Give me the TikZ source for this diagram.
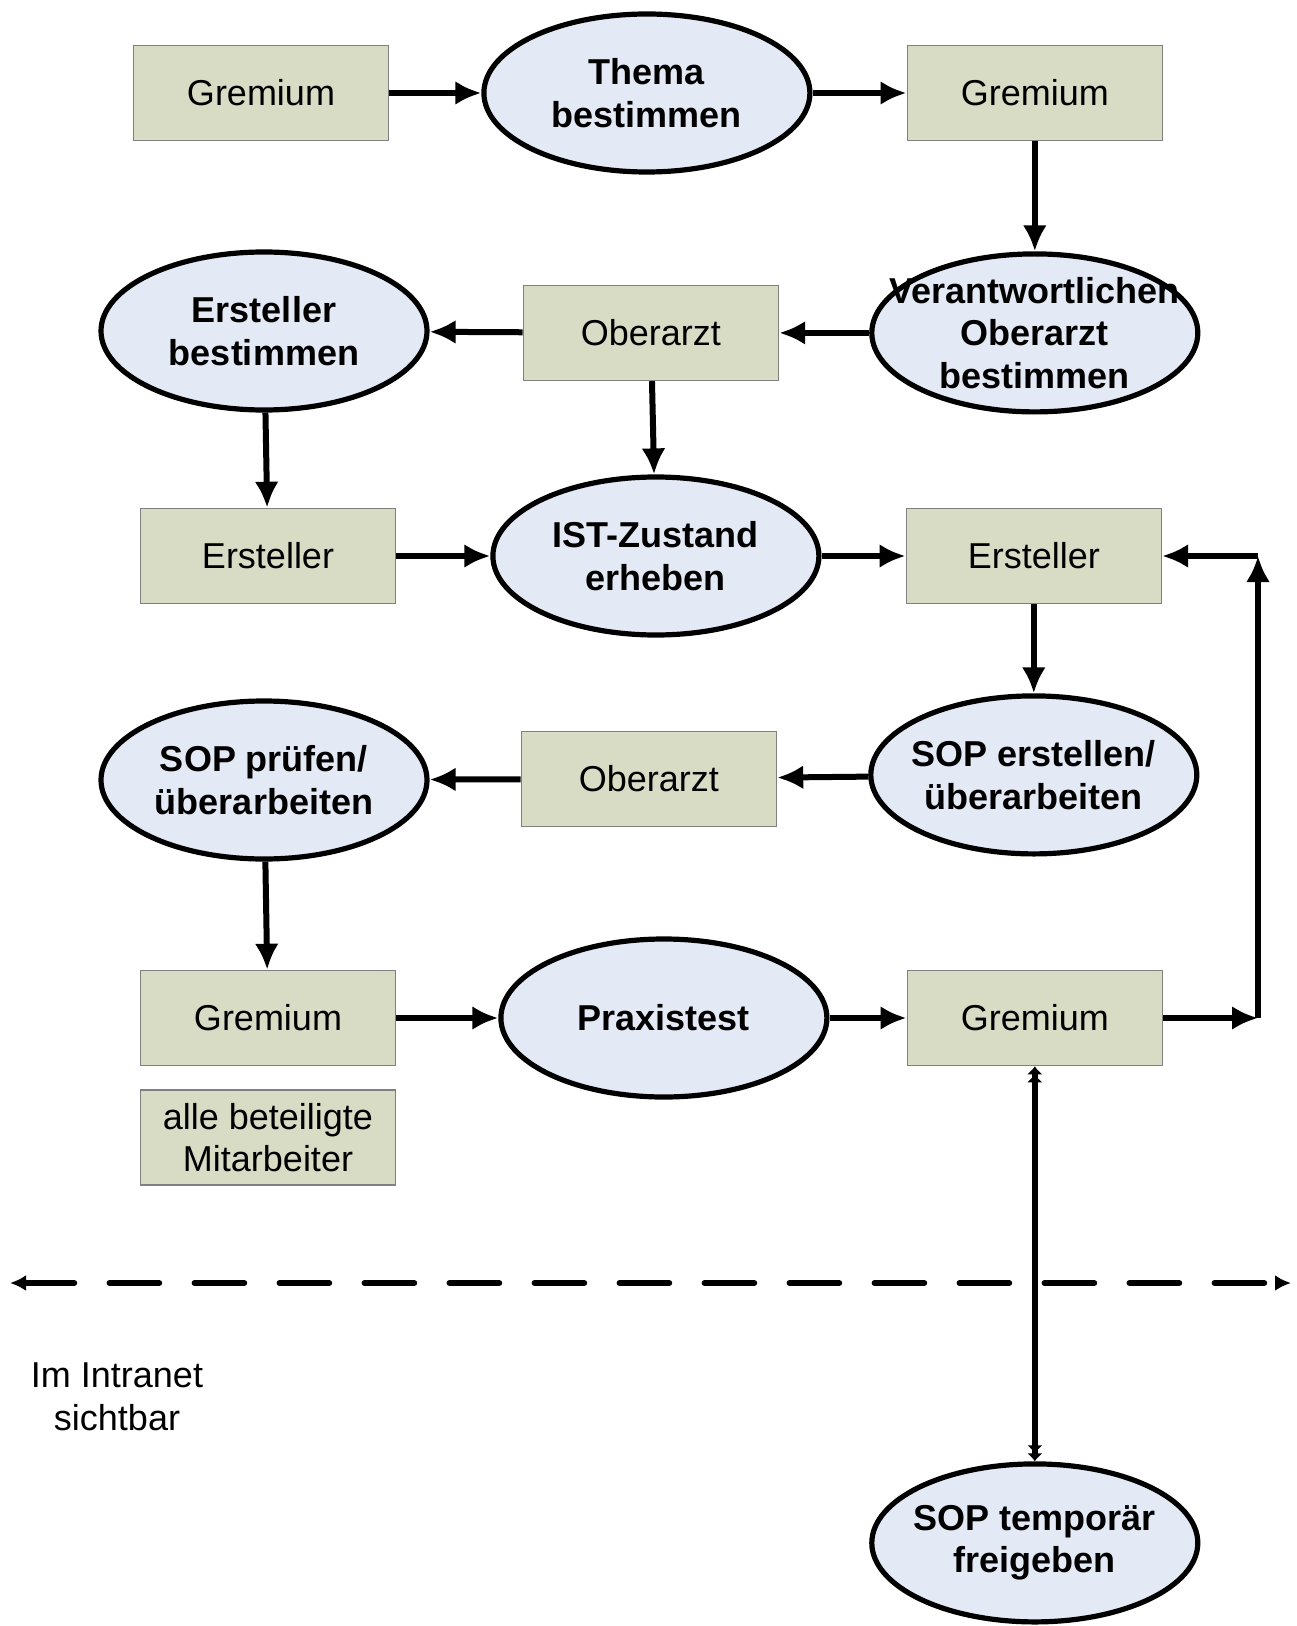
\documentclass[tikz,border=0pt]{standalone}
\usepackage{fontspec}
\setmainfont{Liberation Sans}
\usepackage{tikz}
\usetikzlibrary{shapes.geometric, arrows.meta, positioning}
\definecolor{boxfill}{RGB}{216,220,196}
\definecolor{boxline}{RGB}{128,128,128}
\definecolor{taskfill}{RGB}{227,233,245}
\tikzstyle{rolebox} = [rectangle, minimum width=127.5pt, minimum height=47.5pt, align=center, draw=boxline, line width=0.8pt, fill=boxfill, font=\fontsize{18}{21.3}\selectfont]
\tikzstyle{task} = [ellipse, minimum width=163pt, minimum height=79pt, inner sep=0pt, draw=black, line width=2.6pt, fill=taskfill]
\tikzstyle{tasktext} = [align=center, font=\bfseries\fontsize{18}{21.3}\selectfont]
\tikzstyle{arrow} = [line width=3pt, -{Latex[length=13pt,width=12pt]}]
\tikzstyle{border} = [line width=2.8pt, dash pattern=on 25pt off 17.5pt, line cap=round, {Latex[length=8pt,width=8pt]}-{Latex[length=8pt,width=8pt]}]
\tikzstyle{release} = [line width=3pt, {Latex[length=4pt,width=8pt]Latex[length=4pt,width=8pt]}-{Latex[length=4pt,width=8pt]Latex[length=4pt,width=8pt]}]

\begin{document}
\begin{tikzpicture}[x=0.5pt, y=-0.5pt]
    \useasboundingbox (0,0) rectangle (1296,1626);

    % Thema und Verantwortliche
    \node[rolebox] (grem1) at (261,93) {Gremium};
    \node[task, right=46pt of grem1] (thema) {};
    \node[tasktext] (themaT) at (thema) {Thema\\bestimmen};
    \node[rolebox, right=47pt of thema] (grem2) {Gremium};
    \node[task, below=55pt of grem2] (verant) {};
    \node[tasktext] (verantT) at (verant) {Verantwortlichen\\Oberarzt\\bestimmen};
    \node[rolebox, left=45pt of verant] (ober1) {Oberarzt};
    \node[task] (erstE) at (264,331) {};
    \node[tasktext] (erstET) at (erstE) {Ersteller\\bestimmen};

    % IST-Zustand
    \node[rolebox] (erst1) at (268,556) {Ersteller};
    \node[task, right=47pt of erst1] (ist) {};
    \node[tasktext] (istT) at (ist) {IST-Zustand\\erheben};
    \node[rolebox, right=42pt of ist] (erst2) {Ersteller};

    % SOP erstellen und pruefen
    \node[task, below=44.5pt of erst2] (soperst) {};
    \node[tasktext] (soperstT) at (soperst) {SOP erstellen/\\überarbeiten};
    \node[rolebox, left=45.5pt of soperst, yshift=-2pt] (ober2) {Oberarzt};
    \node[task] (soppr) at (264,780) {};
    \node[tasktext] (sopprT) at (soppr) {SOP prüfen/\\überarbeiten};

    % Praxistest
    \node[rolebox] (grem3) at (268,1018) {Gremium};
    \node[rolebox, below=11.5pt of grem3] (alle) {alle beteiligte\\Mitarbeiter};
    \node[task, right=51pt of grem3] (praxis) {};
    \node[tasktext] (praxisT) at (praxis) {Praxistest};
    \node[rolebox, right=38.5pt of praxis] (grem4) {Gremium};

    % Intranet
    \coordinate (lineL) at (10,1283);
    \coordinate (lineR) at (1291,1283);
    \node[align=center, font=\fontsize{18}{21.3}\selectfont] (intranet) at (117,1397) {Im Intranet\\sichtbar};
    \node[task, below=197.5pt of grem4] (sopfrei) {};
    \node[tasktext] (sopfreiT) at (sopfrei) {SOP temporär\\freigeben};

    % Ruecklauf
    \coordinate (loopA) at (1258,1018);
    \coordinate (loopB) at (1258,556);

    % Connections
    \draw[arrow] (grem1) -- (thema);
    \draw[arrow] (thema) -- (grem2);
    \draw[arrow] (grem2) -- (verant);
    \draw[arrow] (verant) -- (ober1);
    \draw[arrow] (ober1) -- (erstE);
    \draw[arrow] (ober1) -- (ist);
    \draw[arrow] (erstE) -- (erst1);
    \draw[arrow] (erst1) -- (ist);
    \draw[arrow] (ist) -- (erst2);
    \draw[arrow] (erst2) -- (soperst);
    \draw[arrow] (soperst) -- (ober2);
    \draw[arrow] (ober2) -- (soppr);
    \draw[arrow] (soppr) -- (grem3);
    \draw[arrow] (grem3) -- (praxis);
    \draw[arrow] (praxis) -- (grem4);
    \draw[arrow] (grem4) -- (loopA);
    \draw[arrow] (loopA) -- (loopB);
    \draw[arrow] (loopB) -- (erst2);
    \draw[border] (lineL) -- (lineR);
    \draw[release] (grem4) -- (sopfrei);
\end{tikzpicture}
\end{document}
